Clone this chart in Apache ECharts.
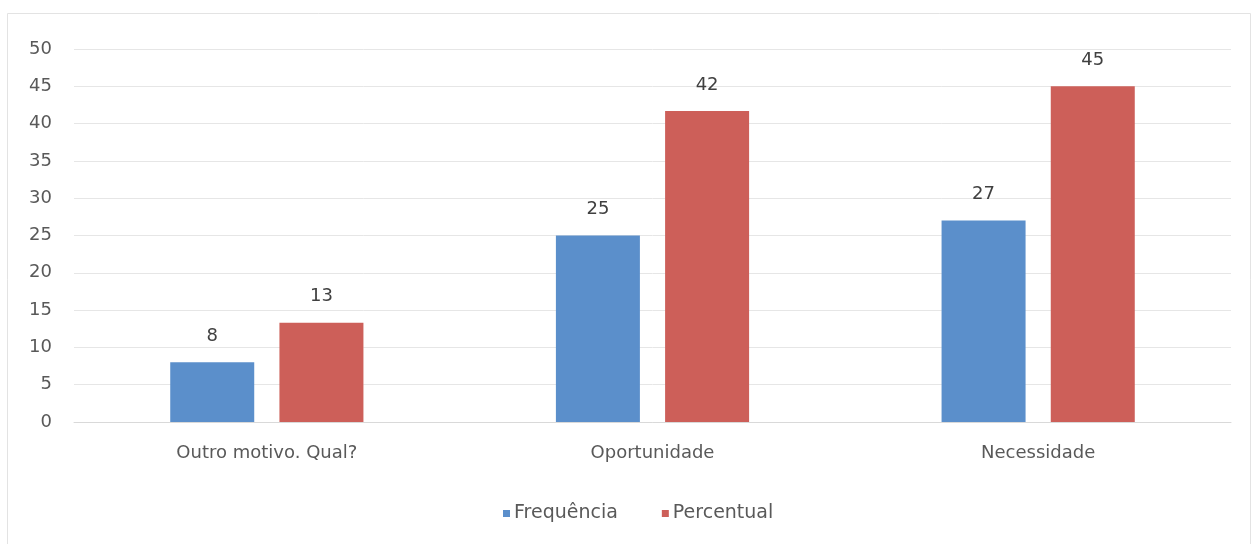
<!DOCTYPE html>
<html>
<head>
	<meta charset="utf-8">
	<title>Motivo</title>
	<script type="text/javascript" src="https://cdn.jsdelivr.net/npm/echarts@6/dist/echarts.min.js"></script>
	<style>
		html, body { margin: 0; padding: 0; background: #fff; }
		#main { width: 1254px; height: 544px; }
	</style>
</head>
<body>
	<div id="main"></div>
	<script type="text/javascript">
var categories = ['Outro motivo. Qual?', 'Oportunidade', 'Necessidade'];
var frequencia = [8, 25, 27];
var percentual = [13.3, 41.7, 45];
var yTicks = { min: 0, max: 50, interval: 5 };

var labelStyle = {
    show: true,
    position: 'top',
    distance: 17,
    color: '#404040',
    fontSize: 18,
    fontFamily: 'DejaVu Sans',
    formatter: function (p) { return Math.round(p.value); }
};

var option = {
    backgroundColor: '#fff',
    textStyle: { fontFamily: 'DejaVu Sans' },
    graphic: [{
        type: 'rect',
        shape: { x: 7.5, y: 13.5, width: 1243, height: 540 },
        style: { fill: 'none', stroke: '#e3e3e3', lineWidth: 1 },
        silent: true
    }],
    legend: {
        bottom: 16,
        left: 498,
        itemWidth: 7,
        itemHeight: 7,
        itemGap: 44,
        icon: 'rect',
        textStyle: { color: '#595959', fontSize: 19, padding: [0, 0, 0, -1] },
        data: ['Frequência', 'Percentual']
    },
    grid: {
        left: 74,
        right: 23,
        top: 49,
        bottom: 122
    },
    xAxis: {
        type: 'category',
        data: categories,
        axisLine: { lineStyle: { color: '#d9d9d9' } },
        axisTick: { show: false },
        axisLabel: { color: '#595959', fontSize: 18, margin: 22 }
    },
    yAxis: {
        type: 'value',
        min: yTicks.min,
        max: yTicks.max,
        interval: yTicks.interval,
        axisLine: { show: false },
        axisTick: { show: false },
        axisLabel: { color: '#595959', fontSize: 18, margin: 22 },
        splitLine: { lineStyle: { color: '#e6e6e6' } }
    },
    series: [
        {
            name: 'Frequência',
            type: 'bar',
            data: frequencia,
            barWidth: 84,
            barGap: '30%',
            itemStyle: { color: '#5b8fcb' },
            label: labelStyle
        },
        {
            name: 'Percentual',
            type: 'bar',
            data: percentual,
            barWidth: 84,
            itemStyle: { color: '#cd5f59' },
            label: labelStyle
        }
    ]
};

var myChart = echarts.init(document.getElementById('main'));
myChart.setOption(option);
	</script>
</body>
</html>
